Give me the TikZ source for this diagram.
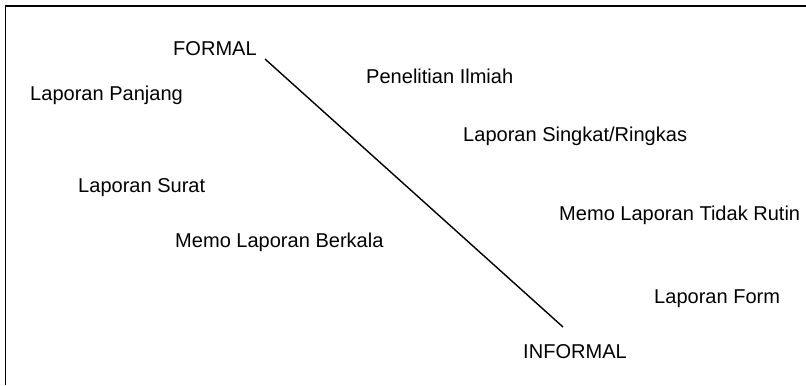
\documentclass[tikz,border=0pt]{standalone}
\usepackage{fontspec}
\setmainfont{Liberation Sans}
\usetikzlibrary{positioning}
\definecolor{inkLine}{RGB}{0,0,0}
\tikzset{
  lbl/.style={anchor=base west, inner sep=0pt, font=\fontsize{17.1}{20}\selectfont, text=inkLine},
  frame/.style={draw=inkLine, line width=1.6pt},
  axis/.style={draw=inkLine, line width=1.2pt},
}

\begin{document}
\begin{tikzpicture}[x=0.03cm, y=-0.03cm]
  \useasboundingbox (0,0) rectangle (806,385);
  \draw[frame] (5.5,385) -- (5.5,6) -- (806,6);
  \node[lbl] (formal) at (173,55) {FORMAL};
  \node[lbl] (informal) at (523,358) {INFORMAL};
  \node[lbl] (panjang) at (30,100) {Laporan Panjang};
  \node[lbl] (ilmiah) at (366,83) {Penelitian Ilmiah};
  \node[lbl] (singkat) at (463,141) {Laporan Singkat/Ringkas};
  \node[lbl] (surat) at (78,192) {Laporan Surat};
  \node[lbl] (berkala) at (175,247) {Memo Laporan Berkala};
  \node[lbl] (tdkrutin) at (559,220) {Memo Laporan Tidak Rutin};
  \node[lbl] (form) at (654,303) {Laporan Form};
  \coordinate (axTop) at (265,59);
  \coordinate (axBot) at (563,327);
  \draw[axis] (axTop) -- (axBot);
\end{tikzpicture}
\end{document}
